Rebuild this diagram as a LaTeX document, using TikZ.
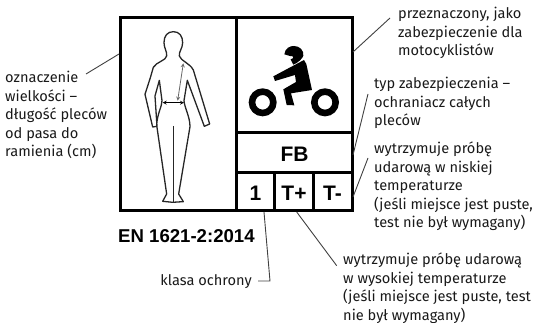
\documentclass[tikz,border=0pt]{standalone}
\usepackage{fontspec}
\setmainfont{Fira Sans}
\newfontfamily\boldfont[BoldFont={Liberation Sans Bold}]{Liberation Sans}
\tikzset{
  caption/.style={anchor=north west, inner sep=0pt, align=left, text=black!90,
    font=\fontsize{14.6}{18.5}\selectfont},
  mark text/.style={inner sep=0pt, font=\boldfont\bfseries\fontsize{21}{21}\selectfont},
  leader/.style={black!75, line width=0.9pt},
  frame/.style={line width=3pt},
}
\begin{document}
\begin{tikzpicture}[x=1pt, y=-1pt]
    \useasboundingbox (0,0) rectangle (533,323);
    \draw[frame] (120,18) rectangle (352,211);
    \draw[frame] (236.5,18) -- (236.5,211);
    \draw[frame] (236.5,133) -- (352,133);
    \draw[frame] (236.5,172.5) -- (352,172.5);
    \draw[frame] (274.5,172.5) -- (274.5,211);
    \draw[frame] (313,172.5) -- (313,211);
    % figure, back view
    \begin{scope}[shift={(110,10)}, x=0.3333pt, y=-0.3333pt]
      \draw[line width=1.3pt, black!85, line join=round]
        (190,65) .. controls (172,65) and (162,78) .. (162,98)
        .. controls (162,115) and (172,125) .. (170,138)
        .. controls (168,152) and (140,155) .. (130,172)
        -- (122,200) -- (105,253) -- (128,351) -- (141,349) -- (135,258) -- (148,211)
        -- (156,272) .. controls (156,290) and (142,310) .. (140,345)
        -- (170,552) -- (158,574) -- (188,577) -- (220,575) -- (206,552)
        -- (240,350) .. controls (240,320) and (224,295) .. (222,272)
        -- (232,211) -- (283,349) -- (299,342) -- (250,180)
        .. controls (240,160) and (212,152) .. (208,138)
        .. controls (206,125) and (218,115) .. (218,98)
        .. controls (218,78) and (208,65) .. (190,65) -- cycle;
      \draw[line width=1.3pt, black!85] (190,348) -- (190,577);
      \draw[black!60, line width=0.8pt, <->, >=stealth] (220,160) -- (203,272);
      \draw[black, line width=0.8pt, <->, >=stealth] (158,278) -- (222,278);
    \end{scope}
    % motorcycle
    \begin{scope}[shift={(240,40)}, x=0.3333pt, y=-0.3333pt]
      \draw[line width=6.6pt] (68,187) circle (32) (255,187) circle (32);
      \fill (133,43) .. controls (135,25) and (150,17) .. (162,18)
        .. controls (180,18) and (192,32) .. (190,47)
        .. controls (188,55) and (175,68) .. (160,74)
        -- (152,58) .. controls (165,55) and (160,46) .. (150,48) -- cycle;
      \fill (192,60) -- (199,72) -- (216,150) -- (153,160) -- (163,196) -- (140,195)
        -- (130,148) -- (168,126) -- (165,105) -- (105,123) -- (100,109) -- cycle;
    \end{scope}
    \node[mark text] (classfb) at (294.5,154) {FB};
    \node[mark text] (classone) at (255.5,193) {1};
    \node[mark text] (tplus) at (294,193) {T+};
    \node[mark text] (tminus) at (332.5,193) {T-};
    \node[mark text, anchor=west, font=\boldfont\bfseries\fontsize{18.6}{18.6}\selectfont] (norm) at (118,236) {EN 1621-2:2014};
    \node[caption] (size) at (5,71) {oznaczenie\\wielkości --\\długość pleców\\od pasa do\\ramienia (cm)};
    \node[caption] (rider) at (398,7) {przeznaczony, jako\\zabezpieczenie dla\\motocyklistów};
    \node[caption] (type) at (374,77) {typ zabezpieczenia --\\ochraniacz całych\\pleców};
    \node[caption] (cold) at (374,142) {wytrzymuje próbę\\udarową w niskiej\\temperaturze\\(jeśli miejsce jest puste,\\test nie był wymagany)};
    \node[caption] (hot) at (343,253) {wytrzymuje próbę udarową\\w wysokiej temperaturze\\(jeśli miejsce jest puste, test\\nie był wymagany)};
    \node[caption, anchor=east] (protect) at (252,282) {klasa ochrony};
    \coordinate (sizea) at (86,74);
    \coordinate (sizeb) at (119,54);
    \coordinate (ridera) at (390,18);
    \coordinate (riderb) at (353,52);
    \coordinate (typea) at (368,94);
    \coordinate (typeb) at (353,155);
    \coordinate (colda) at (368,158);
    \coordinate (coldb) at (353,197);
    \coordinate (hota) at (336.7,265.7);
    \coordinate (hotb) at (296.7,212);
    \coordinate (protecta) at (258,281);
    \coordinate (protectb) at (270,281);
    \coordinate (protectc) at (264,212);
    \draw[leader] (sizea) -- (sizeb);
    \draw[leader] (ridera) -- (riderb);
    \draw[leader] (typea) -- (typeb);
    \draw[leader] (colda) -- (coldb);
    \draw[leader] (hota) -- (hotb);
    \draw[leader] (protecta) -- (protectb) -- (protectc);
\end{tikzpicture}
\end{document}
